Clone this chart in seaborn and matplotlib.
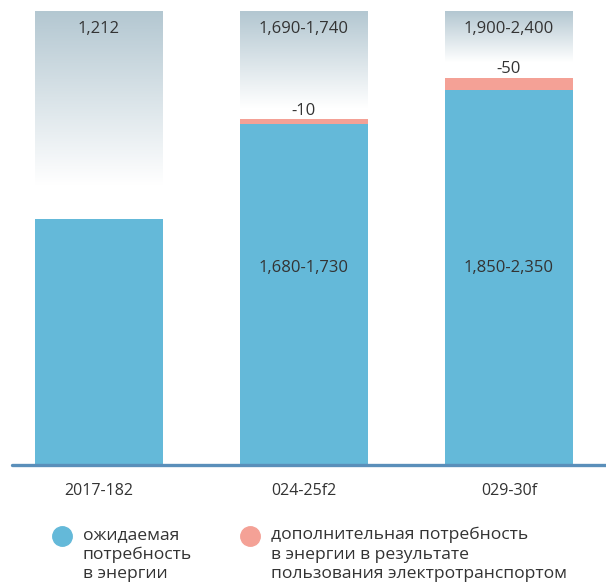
import numpy as np
import pandas as pd
import matplotlib
matplotlib.use("Agg")
import matplotlib.pyplot as plt
from matplotlib.colors import LinearSegmentedColormap
from matplotlib.lines import Line2D
import seaborn as sns

# Data
periods = ["2017-182", "024-25f2", "029-30f"]
expected = [1212, 1680, 1850]          # blue part (bar height)
ev_extra = [0, 25, 60]                 # pink part on top (drawn height)
ev_labels = ["", "-10", "-50"]
inner_labels = ["", "1,680-1,730", "1,850-2,350"]
range_labels = ["1,212", "1,690-1,740", "1,900-2,400"]
range_top = 2238                       # top of the shaded range boxes
range_fade_to = [1380, 1760, 1987]     # where each shaded box fades out

blue = "#64b9d9"
pink = "#f4a196"
shade = "#b3c7d1"
text_col = "#333333"

df = pd.DataFrame({"period": periods, "expected": expected, "extra": ev_extra})

sns.set_style("white")
plt.rcParams["font.family"] = ["Open Sans", "DejaVu Sans"]

fig = plt.figure(figsize=(6.06, 5.88), dpi=100)
ax = fig.add_axes([12 / 606, 123 / 588, 594 / 606, 454 / 588])

bar_w = 0.624
sns.barplot(data=df, x="period", y="expected", color=blue, width=bar_w,
            saturation=1, linewidth=0, ax=ax, zorder=2)
ax.bar(range(len(periods)), df["extra"], bottom=df["expected"], width=bar_w,
       color=pink, linewidth=0, zorder=2)

# gradient boxes for the forecast range
cmap = LinearSegmentedColormap.from_list("fade", [shade, "#ffffff"])
grad = np.linspace(0, 1, 256).reshape(-1, 1)
for i in range(len(periods)):
    ax.imshow(grad, cmap=cmap, aspect="auto", zorder=1,
              extent=[i - bar_w / 2, i + bar_w / 2, range_fade_to[i], range_top],
              origin="upper")
    ax.text(i, range_top - 90, range_labels[i], ha="center", va="center",
            fontsize=12, color=text_col, zorder=3)
    if ev_labels[i]:
        ax.text(i, expected[i] + ev_extra[i] + 40, ev_labels[i], ha="center",
                va="center", fontsize=12, color=text_col, zorder=3)
    if inner_labels[i]:
        ax.text(i, 970, inner_labels[i], ha="center", va="center",
                fontsize=12, color=text_col, zorder=3)

ax.set_xlim(-0.424, 2.473)
ax.set_ylim(0, range_top)
ax.axhline(0, color="#5a8fba", linewidth=2.4, zorder=4, clip_on=False)
sns.despine(ax=ax, left=True, bottom=True, top=True, right=True)
ax.set_yticks([])
ax.set_xlabel("")
ax.set_ylabel("")
ax.tick_params(axis="x", length=0, pad=13, labelsize=11.5, labelcolor=text_col)

# legend drawn by hand
legend_items = [
    (62, blue, "ожидаемая\nпотребность\nв энергии"),
    (250, pink, "дополнительная потребность\nв энергии в результате\nпользования электротранспортом"),
]
for x, c, lab in legend_items:
    fig.add_artist(Line2D([x / 606], [1 - 536 / 588], marker="o", markersize=14,
                          color=c, linestyle="none", transform=fig.transFigure))
    fig.text((x + 21) / 606, 1 - 527 / 588, lab, ha="left", va="top",
             fontsize=12.6, color=text_col, linespacing=1.27)

fig.savefig("out.png", dpi=100)
